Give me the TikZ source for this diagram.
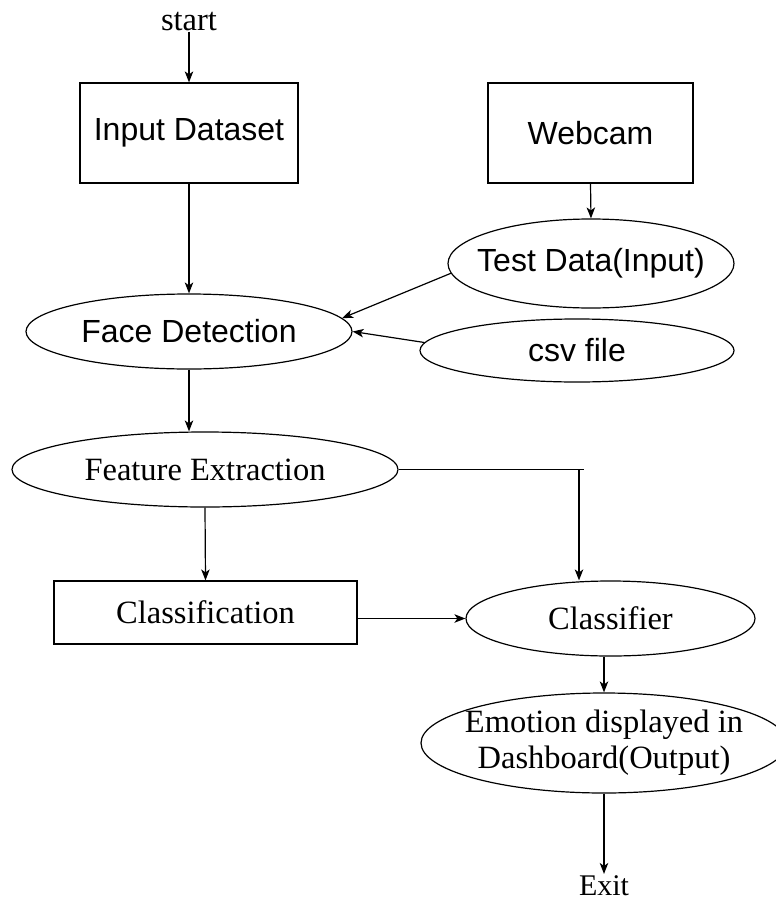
\documentclass[tikz,border=0pt]{standalone}
\usepackage{fontspec}
\setmainfont{Liberation Serif}
\newfontfamily\arialfont{Liberation Sans}
\usetikzlibrary{shapes.geometric,arrows.meta,calc}
\tikzset{
  sansbig/.style={font=\arialfont\fontsize{32bp}{36bp}\selectfont},
  serifbig/.style={font=\fontsize{32.5bp}{36bp}\selectfont},
  serifexit/.style={font=\fontsize{30bp}{34bp}\selectfont},
  boxnode/.style={draw, rectangle, inner sep=0pt, line width=1.2bp},
  ellnode/.style={draw, ellipse, inner xsep=-20bp, inner ysep=0pt, line width=1.2bp},
  conn/.style={line width=1.2bp, -{Stealth[length=11bp,width=8.5bp,inset=3bp]}},
  plainconn/.style={line width=1.2bp},
  lbl/.style={inner sep=1bp}
}
\begin{document}
\begin{tikzpicture}[x=1bp,y=-1bp]
\useasboundingbox (0,0) rectangle (776,903);
% nodes
\node[lbl, serifbig, anchor=base] (start) at (189,30) {start};
\node[boxnode, sansbig, minimum width=218bp, minimum height=100bp] (inp) at (189,133) {Input Dataset};
\node[boxnode, sansbig, minimum width=205bp, minimum height=100bp] (web) at (590.5,133) {Webcam};
\node[ellnode, sansbig, minimum width=286bp, minimum height=89bp] (test) at (591,263.5) {Test Data(Input)};
\node[ellnode, sansbig, minimum width=314bp, minimum height=63bp] (csv) at (577,350.5) {csv file};
\node[ellnode, sansbig, minimum width=326bp, minimum height=75bp] (face) at (189,331.5) {Face Detection};
\node[ellnode, serifbig, minimum width=386bp, minimum height=75bp] (feat) at (205,469.5) {Feature Extraction};
\node[boxnode, serifbig, minimum width=303bp, minimum height=63bp] (cls) at (205.5,612.5) {Classification};
\node[ellnode, serifbig, minimum width=289bp, minimum height=75bp] (clf) at (610.5,618.5) {Classifier};
\node[ellnode, serifbig, align=center, minimum width=366bp, minimum height=100bp] (emo) at (604,743) {Emotion displayed in\\Dashboard(Output)};
\node[lbl, serifexit, anchor=base] (exit) at (604,895) {Exit};
% helper coordinates
\coordinate (fx) at (579,469.5);
\coordinate (fxe) at (584,469.5);
% connectors
\draw[conn] (start.south) -- (inp.north);
\draw[conn] (inp.south) -- (face.north);
\draw[conn] (web.south) -- (test.north);
\draw[conn] (test.184) -- (face.5);
\draw[conn] (csv.177) -- (face.east);
\draw[conn] (face.south) -- (face.south |- feat.north);
\draw[conn] (feat.south) -- (cls.north);
\draw[plainconn] (feat.east) -- (fxe);
\draw[conn] (fx) -- (fx |- clf.north);
\draw[conn] (cls.east |- clf.west) -- (clf.west);
\draw[conn] (emo.north |- clf.south) -- (emo.north);
\draw[conn] (emo.south) -- (exit.north);
\end{tikzpicture}
\end{document}
